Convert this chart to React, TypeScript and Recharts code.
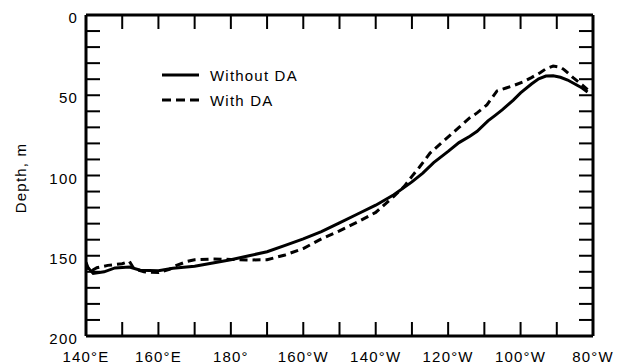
import React from 'react';
import { LineChart, Line, XAxis, YAxis, Legend } from 'recharts';

const withoutLon = [140, 142, 145, 148, 152, 155, 160, 164, 170, 175, 180, 185, 190, 195, 200, 205, 210, 215, 220, 225, 230, 233, 236, 240, 243, 246, 248, 251, 253, 255, 258, 260, 263, 265, 267, 269, 271, 273, 275, 277, 278.5];
const withoutDepth = [156, 161, 160, 157.6, 157, 159, 159.3, 157.8, 156.5, 154.5, 152.5, 150, 147.5, 143.5, 139.5, 135, 129.5, 124, 118.5, 112, 104, 98.5, 92, 85, 79.5, 75.5, 72.5, 66, 62.5, 59, 53, 48.5, 43, 39.8, 38, 37.8, 38.8, 40.5, 43, 45.5, 48];

const withLon = [140, 141, 143, 146, 150, 152, 153.2, 156, 160, 163, 165, 168, 170, 175, 180, 185, 190, 195, 200, 205, 210, 215, 220, 225, 228, 230, 232, 235, 238, 240.5, 243, 246, 248, 250.7, 252, 253.5, 256, 258, 260.7, 263, 265.4, 267, 269, 271, 272, 274.5, 277, 278.5];
const withDepth = [154, 160, 157.5, 156, 155, 153.5, 158, 160, 160.5, 158.5, 156, 153.5, 152.5, 152, 152.3, 152.6, 152.5, 149.5, 145.5, 139.5, 134.5, 129, 123, 113, 106.5, 100.5, 95, 86, 80, 75, 70, 64, 61, 56, 52, 47.3, 45.5, 44, 41.7, 39, 36, 33.5, 31.8, 32.5, 34, 39, 43.5, 46.5];

const xTicks = [140, 150, 160, 170, 180, 190, 200, 210, 220, 230, 240, 250, 260, 270, 280];
const xLabelValues = [140, 160, 180, 200, 220, 240, 260, 280];
const xLabelTexts = ['140°E', '160°E', '180°', '160°W', '140°W', '120°W', '100°W', '80°W'];
const yTicks = [0, 10, 20, 30, 40, 50, 60, 70, 80, 90, 100, 110, 120, 130, 140, 150, 160, 170, 180, 190, 200];
const yLabelValues = [0, 50, 100, 150, 200];

const seriesNames = ['Without DA', 'With DA'];

const withoutData = withoutLon.map((lon, i) => ({ lon, depth: withoutDepth[i] }));
const withData = withLon.map((lon, i) => ({ lon, depth: withDepth[i] }));

const fontStyle: React.CSSProperties = {
  fontFamily: '"Liberation Sans", Arial, Helvetica, sans-serif',
  fontSize: 15,
  letterSpacing: 1.2,
  fill: '#000',
};

const BottomTick = (props: any) => {
  const { x, y, payload } = props;
  const i = xLabelValues.indexOf(payload.value);
  return (
    <g>
      <line x1={x} x2={x} y1={y} y2={y - 14} stroke="#000" strokeWidth={2} />
      {i >= 0 && (
        <text x={x} y={y + 25.5} textAnchor="middle" style={fontStyle}>
          {xLabelTexts[i]}
        </text>
      )}
    </g>
  );
};

const TopTick = (props: any) => {
  const { x, y } = props;
  return <line x1={x} x2={x} y1={y} y2={y + 14} stroke="#000" strokeWidth={2} />;
};

const LeftTick = (props: any) => {
  const { x, y, payload } = props;
  const show = yLabelValues.indexOf(payload.value) >= 0;
  return (
    <g>
      <line x1={x} x2={x + 14} y1={y} y2={y} stroke="#000" strokeWidth={2} />
      {show && (
        <text x={x - 8} y={y + 8.2} textAnchor="end" style={fontStyle}>
          {payload.value}
        </text>
      )}
    </g>
  );
};

const RightTick = (props: any) => {
  const { x, y } = props;
  return <line x1={x} x2={x - 14} y1={y} y2={y} stroke="#000" strokeWidth={2} />;
};

const LegendContent = () => (
  <svg width={160} height={50}>
    <line x1={2} x2={39} y1={13} y2={13} stroke="#000" strokeWidth={3} />
    <text x={50} y={18.5} style={fontStyle}>{seriesNames[0]}</text>
    <line x1={2} x2={39} y1={38} y2={38} stroke="#000" strokeWidth={3} strokeDasharray="9 5" />
    <text x={50} y={43.5} style={fontStyle}>{seriesNames[1]}</text>
  </svg>
);

const YLabel = () => (
  <text x={26} y={178} transform="rotate(-90 26 178)" textAnchor="middle" style={fontStyle}>
    Depth, m
  </text>
);

export default function App() {
  return (
    <div style={{ position: 'absolute', left: 0, top: 0, width: 625, height: 364, background: '#fff' }}>
      <LineChart width={625} height={364} margin={{ top: 14, right: 31, bottom: 0, left: 26 }}>
        <XAxis
          dataKey="lon"
          type="number"
          domain={[140, 280]}
          ticks={xTicks}
          interval={0}
          allowDataOverflow
          height={28}
          tickSize={0}
          tickMargin={0}
          tickLine={false}
          axisLine={{ stroke: '#000', strokeWidth: 3 }}
          tick={BottomTick}
        />
        <XAxis
          xAxisId="top"
          orientation="top"
          dataKey="lon"
          type="number"
          domain={[140, 280]}
          ticks={xTicks}
          interval={0}
          allowDataOverflow
          height={1}
          tickSize={0}
          tickMargin={0}
          tickLine={false}
          axisLine={{ stroke: '#000', strokeWidth: 3 }}
          tick={TopTick}
        />
        <YAxis
          type="number"
          domain={[0, 200]}
          reversed
          ticks={yTicks}
          interval={0}
          allowDataOverflow
          width={60}
          tickSize={0}
          tickMargin={0}
          tickLine={false}
          axisLine={{ stroke: '#000', strokeWidth: 3 }}
          tick={LeftTick}
          label={{ content: YLabel }}
        />
        <YAxis
          yAxisId="right"
          orientation="right"
          type="number"
          domain={[0, 200]}
          reversed
          ticks={yTicks}
          interval={0}
          allowDataOverflow
          width={1}
          tickSize={0}
          tickMargin={0}
          tickLine={false}
          axisLine={{ stroke: '#000', strokeWidth: 3 }}
          tick={RightTick}
        />
        <Legend
          layout="vertical"
          verticalAlign="middle"
          align="center"
          wrapperStyle={{ left: 160, top: 62, width: 160, height: 50 }}
          content={LegendContent}
        />
        <Line
          data={withoutData}
          dataKey="depth"
          name={seriesNames[0]}
          type="linear"
          stroke="#000"
          strokeWidth={3}
          dot={false}
          activeDot={false}
          isAnimationActive={false}
        />
        <Line
          data={withData}
          dataKey="depth"
          name={seriesNames[1]}
          type="linear"
          stroke="#000"
          strokeWidth={3}
          strokeDasharray="8 5"
          dot={false}
          activeDot={false}
          isAnimationActive={false}
        />
      </LineChart>
    </div>
  );
}
